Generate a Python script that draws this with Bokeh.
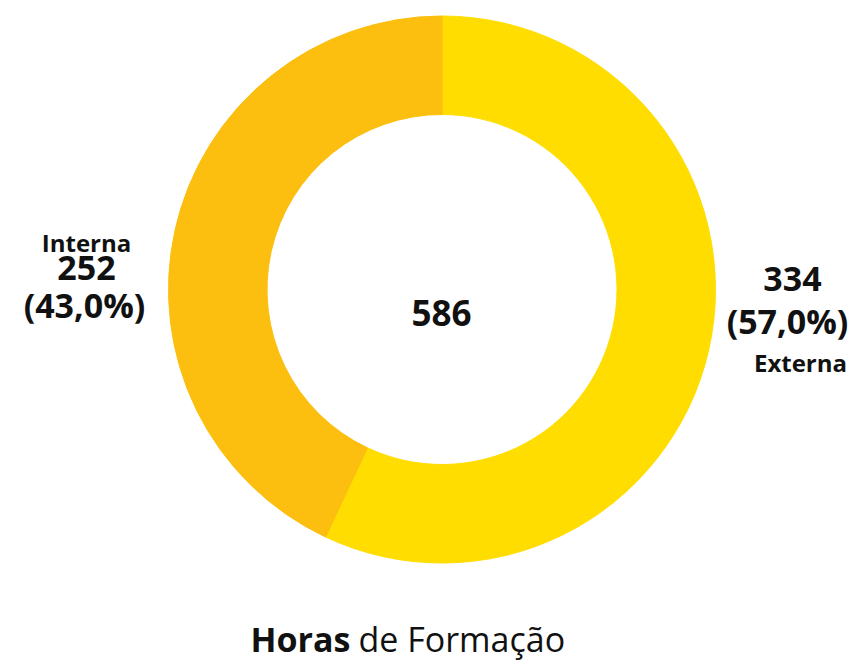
import math
from bokeh.plotting import figure
from bokeh.models import Range1d
from bokeh.core.properties import value
from bokeh.embed import file_html
from bokeh.resources import INLINE

categories = ["Externa", "Interna"]
values = [334, 252]
colors = ["#FFDD00", "#FCBF0F"]
total = sum(values)

W, H = 858, 663
p = figure(width=W, height=H, output_backend="svg", toolbar_location=None,
           x_range=Range1d(0, W), y_range=Range1d(0, H), min_border=0)
p.axis.visible = False
p.grid.visible = False
p.outline_line_color = None
p.background_fill_color = "white"
p.border_fill_color = "white"

cx, cy = 441.5, H - 289
r_out, r_in = 273.5, 175

# clockwise from the top
start = math.radians(90)
for cat, v, c in zip(categories, values, colors):
    sweep = 2 * math.pi * v / total
    end = start - sweep
    p.annular_wedge(x=cx, y=cy, inner_radius=r_in, outer_radius=r_out,
                    start_angle=end, end_angle=start, color=c, line_color=c)
    start = end

font = value("Open Sans")

def txt(x, y, s, size, align="center", style="bold"):
    yy = y - 0.43 * size
    p.text(x=[x], y=[H - yy], text=[s], text_font=font, text_font_size=f"{size}px",
           text_font_style=style, text_align=align, text_baseline="alphabetic",
           text_color="#111111")

pct = [f"({v / total * 100:.1f}%)".replace(".", ",") for v in values]

txt(86, 252, categories[1], 24)
txt(86, 282, str(values[1]), 34)
txt(84, 319, pct[1], 34)

txt(792, 293, str(values[0]), 34)
txt(787, 335, pct[0], 34)
txt(800, 372, categories[0], 24)

txt(441, 328, str(total), 35)

txt(350, 653, "Horas", 34, align="right")
txt(358, 653, "de Formação", 34, align="left", style="normal")

open("out.html", "w").write(file_html(p, INLINE))
